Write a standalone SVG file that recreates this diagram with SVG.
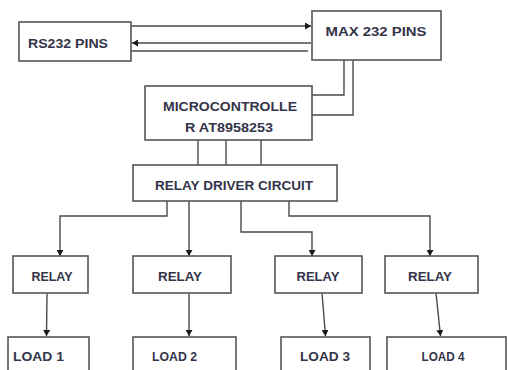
<svg xmlns="http://www.w3.org/2000/svg" width="508" height="370" viewBox="0 0 508 370">
<defs>
<marker id="ah" markerUnits="userSpaceOnUse" markerWidth="7" markerHeight="7" refX="6" refY="3.5" orient="auto">
<path d="M0,0 L6,3.5 L0,7 z" fill="#1a1a1a"/>
</marker>
<style>
.box{fill:#fff;stroke:#555;stroke-width:1.6}
.t{font-family:"Liberation Sans",Arial,sans-serif;font-weight:bold;font-size:13.5px;fill:#34344a;text-anchor:middle}
.c{fill:none;stroke:#4a4a4a;stroke-width:1.4}
.a{marker-end:url(#ah)}
</style>
</defs>
<rect width="508" height="370" fill="#fff"/>
<g id="connectors">
<path class="c a" d="M131,26 H311"/>
<path class="c a" d="M311,43 H132"/>
<path class="c" d="M131,51 H308"/>
<path class="c" d="M344,60 V95 H312"/>
<path class="c" d="M353,60 V115 H312"/>
<path class="c" d="M198,140 V165"/>
<path class="c" d="M226,140 V165"/>
<path class="c" d="M261,140 V165"/>
<path class="c a" d="M167,201 V216 H60 V256"/>
<path class="c a" d="M189,201 V256"/>
<path class="c a" d="M241,201 V232 H312 V256"/>
<path class="c a" d="M289,201 V216 H430 V256"/>
<path class="c a" d="M47,293 L46.5,336"/>
<path class="c a" d="M189,293 V336"/>
<path class="c a" d="M322,293 L325.5,336"/>
<path class="c a" d="M436,293 L440.5,336"/>
</g>
<g id="rs232">
<rect class="box" x="19" y="22" width="112" height="39"/>
<text class="t" x="68" y="48" textLength="80" lengthAdjust="spacingAndGlyphs">RS232 PINS</text>
</g>
<g id="max232">
<rect class="box" x="312" y="11" width="129" height="49"/>
<text class="t" x="376" y="36" textLength="101" lengthAdjust="spacingAndGlyphs">MAX 232 PINS</text>
</g>
<g id="mcu">
<rect class="box" x="145" y="86" width="167" height="54"/>
<text class="t" x="230" y="111" textLength="134" lengthAdjust="spacingAndGlyphs">MICROCONTROLLE</text>
<text class="t" x="229" y="132" textLength="88" lengthAdjust="spacingAndGlyphs">R AT8958253</text>
</g>
<g id="driver">
<rect class="box" x="133" y="165" width="204" height="36"/>
<text class="t" x="234" y="190" textLength="158" lengthAdjust="spacingAndGlyphs">RELAY DRIVER CIRCUIT</text>
</g>
<g id="relay1">
<rect class="box" x="13" y="256" width="75" height="37"/>
<text class="t" x="52" y="281" textLength="41" lengthAdjust="spacingAndGlyphs">RELAY</text>
</g>
<g id="relay2">
<rect class="box" x="133" y="256" width="98" height="37"/>
<text class="t" x="180" y="281" textLength="44" lengthAdjust="spacingAndGlyphs">RELAY</text>
</g>
<g id="relay3">
<rect class="box" x="275" y="256" width="87" height="37"/>
<text class="t" x="318" y="281" textLength="43" lengthAdjust="spacingAndGlyphs">RELAY</text>
</g>
<g id="relay4">
<rect class="box" x="385" y="256" width="93" height="37"/>
<text class="t" x="430" y="281" textLength="44" lengthAdjust="spacingAndGlyphs">RELAY</text>
</g>
<g id="load1">
<rect class="box" x="8" y="337" width="81" height="50"/>
<text class="t" x="38.5" y="361" textLength="51" lengthAdjust="spacingAndGlyphs">LOAD 1</text>
</g>
<g id="load2">
<rect class="box" x="133" y="337" width="103" height="50"/>
<text class="t" x="174.5" y="361" textLength="45" lengthAdjust="spacingAndGlyphs">LOAD 2</text>
</g>
<g id="load3">
<rect class="box" x="281" y="337" width="89" height="50"/>
<text class="t" x="325" y="361" textLength="50" lengthAdjust="spacingAndGlyphs">LOAD 3</text>
</g>
<g id="load4">
<rect class="box" x="387" y="337" width="119" height="50"/>
<text class="t" x="443" y="361" textLength="43" lengthAdjust="spacingAndGlyphs">LOAD 4</text>
</g>
</svg>
